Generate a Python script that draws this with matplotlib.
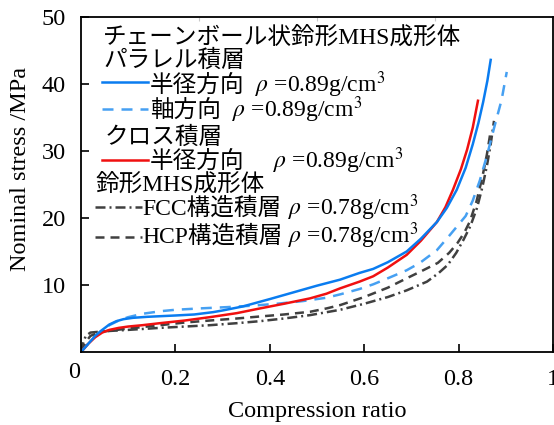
import matplotlib
matplotlib.use("Agg")
import matplotlib.pyplot as plt

plt.rcParams['font.family'] = ['Liberation Serif', 'Noto Sans CJK JP']
plt.rcParams['mathtext.fontset'] = 'stix'

# ---- data ----
par_rad_x = [0, 0.015, 0.03, 0.045, 0.06, 0.075, 0.09, 0.11, 0.14, 0.17, 0.2, 0.24, 0.28, 0.3, 0.343,
             0.4, 0.45, 0.5, 0.549, 0.59, 0.619, 0.65, 0.69, 0.72, 0.754, 0.775, 0.796, 0.815, 0.83,
             0.842, 0.852, 0.861, 0.868]
par_rad_y = [0, 1.2, 2.4, 3.3, 4.1, 4.6, 4.9, 5.1, 5.25, 5.35, 5.45, 5.6, 5.95, 6.2, 6.8,
             7.9, 8.9, 9.9, 10.8, 11.8, 12.4, 13.4, 15.0, 16.9, 19.4, 21.5, 24.2, 27.5, 31.0,
             34.2, 37.3, 40.5, 43.6]

par_ax_x = [0, 0.02, 0.04, 0.06, 0.08, 0.1, 0.13, 0.17, 0.2, 0.25, 0.31, 0.36, 0.415, 0.47, 0.52,
            0.549, 0.59, 0.619, 0.65, 0.69, 0.718, 0.754, 0.782, 0.815, 0.83, 0.845, 0.86, 0.875,
            0.891, 0.902]
par_ax_y = [0, 1.6, 3.0, 4.0, 4.7, 5.2, 5.7, 6.1, 6.3, 6.5, 6.7, 6.9, 7.2, 7.6, 8.1,
            8.6, 9.4, 10.1, 11.0, 12.2, 13.3, 15.2, 17.5, 20.3, 22.6, 25.6, 29.3, 33.4,
            37.6, 41.8]

cross_rad_x = [0, 0.015, 0.03, 0.045, 0.06, 0.08, 0.1, 0.13, 0.167, 0.22, 0.273, 0.33, 0.379, 0.43,
               0.485, 0.52, 0.549, 0.59, 0.619, 0.65, 0.69, 0.72, 0.754, 0.772, 0.788, 0.805, 0.818,
               0.83, 0.841]
cross_rad_y = [0, 1.2, 2.2, 2.9, 3.3, 3.6, 3.8, 4.0, 4.3, 4.7, 5.2, 5.8, 6.5, 7.2,
               8.0, 8.7, 9.5, 10.5, 11.3, 12.6, 14.5, 16.6, 19.4, 21.6, 24.2, 27.3, 30.2,
               33.5, 37.5]

fcc_x = [0, 0.004, 0.01, 0.02, 0.05, 0.1, 0.167, 0.22, 0.273, 0.33, 0.379, 0.43, 0.485, 0.549, 0.6,
         0.65, 0.69, 0.733, 0.758, 0.777, 0.795, 0.81, 0.825, 0.839, 0.85, 0.86, 0.868, 0.875]
fcc_y = [0, 1.2, 2.4, 2.9, 3.1, 3.3, 3.6, 3.8, 4.0, 4.3, 4.6, 5.0, 5.5, 6.3, 7.2,
         8.2, 9.2, 10.5, 11.8, 13.0, 14.8, 16.7, 18.8, 21.5, 24.5, 27.8, 31.0, 34.5]

hcp_x = [0, 0.01, 0.02, 0.04, 0.1, 0.167, 0.22, 0.273, 0.33, 0.379, 0.43, 0.485, 0.52, 0.549, 0.6,
         0.65, 0.69, 0.725, 0.756, 0.78, 0.797, 0.812, 0.824, 0.838, 0.85, 0.86, 0.868]
hcp_y = [0, 1.5, 2.4, 3.0, 3.5, 4.0, 4.4, 4.7, 5.0, 5.3, 5.6, 6.0, 6.5, 7.0, 8.2,
         9.6, 11.0, 12.2, 13.3, 14.8, 16.2, 17.8, 19.5, 22.5, 26.0, 29.5, 33.0]

x_ticks = [0.2, 0.4, 0.6, 0.8, 1.0]
x_ticklabels = ['0.2', '0.4', '0.6', '0.8', '1']
y_ticks = [10, 20, 30, 40, 50]
y_ticklabels = ['10', '20', '30', '40', '50']

C_BLUE = '#0a7cf0'
C_LBLUE = '#46a0f2'
C_RED = '#f01010'
C_DARK = '#404040'

W, H = 554, 425
fig = plt.figure(figsize=(W / 100, H / 100), dpi=100)
ax = fig.add_axes([81 / W, (H - 352) / H, 472 / W, 335 / H])

LW = 1.8
LS_LB = (0, (4.4, 3.2))
LS_HCP = (0, (3.6, 2.4))
LS_FCC = (0, (4.0, 1.6, 0.8, 1.6))
ax.plot(hcp_x, hcp_y, color=C_DARK, lw=LW, linestyle=LS_HCP)
ax.plot(fcc_x, fcc_y, color=C_DARK, lw=LW, linestyle=LS_FCC)
ax.plot(par_ax_x, par_ax_y, color=C_LBLUE, lw=LW, linestyle=LS_LB)
ax.plot(cross_rad_x, cross_rad_y, color=C_RED, lw=LW)
ax.plot(par_rad_x, par_rad_y, color=C_BLUE, lw=LW)

ax.set_xlim(0, 1)
ax.set_ylim(0, 50)
ax.set_xticks(x_ticks)
ax.set_xticklabels(x_ticklabels)
ax.set_yticks(y_ticks)
ax.set_yticklabels(y_ticklabels)
ax.tick_params(direction='in', length=6, width=1.2, labelsize=17.5, colors='black')
ax.tick_params(axis='y', pad=11)
ax.tick_params(axis='x', pad=12)
for s in ax.spines.values():
    s.set_linewidth(1.3)

sec = ax.secondary_xaxis('top')
sec.set_xticks([0.25, 0.5, 0.75])
sec.tick_params(direction='in', length=3, width=0.8, colors='#c8c8c8', labeltop=False)
sec.spines['top'].set_visible(False)

ax.set_xlabel('Compression ratio', fontsize=17.5)
ax.xaxis.set_label_coords((317 - 81) / 472, (352 - 411) / 335)
ax.xaxis.label.set_va('center')
ax.set_ylabel('Nominal stress /MPa', fontsize=17.5)
ax.yaxis.set_label_coords((20 - 81) / 472, (352 - 169) / 335)
ax.yaxis.label.set_va('center')

fig.text(74 / W, 1 - 372 / H, '0', fontsize=17.5, ha='center', va='center')

# ---- legend drawn in pixel positions ----
def fx(px):
    return px / W

def fy(py):
    return 1 - py / H

FS = 17

def txt(px, py, s, **kw):
    fig.text(fx(px), fy(py), s, fontsize=FS, ha='left', va='baseline', **kw)

def sample(x0, x1, py, color, ls):
    ax.plot([fx(x0), fx(x1)], [fy(py), fy(py)], transform=fig.transFigure,
            color=color, lw=LW, linestyle=ls, clip_on=False)

rho89 = r'$\rho$ =0.89g/cm$^3$'
rho78 = r'$\rho$ =0.78g/cm$^3$'

txt(103, 45, 'チェーンボール状鈴形MHS成形体')
txt(103, 67, 'パラレル積層')
sample(102, 148, 82, C_BLUE, '-')
txt(150, 92, '半径方向')
txt(255, 92, rho89)
sample(102, 148, 109, C_LBLUE, LS_LB)
txt(150, 117, '軸方向')
txt(232, 117, rho89)
txt(105, 144, 'クロス積層')
sample(102, 148, 160, C_RED, '-')
txt(150, 168, '半径方向')
txt(273, 168, rho89)
txt(95, 192, '鈴形MHS成形体')
sample(95, 142, 207, C_DARK, LS_FCC)
txt(142, 215, 'FCC構造積層')
txt(288, 215, rho78)
sample(95, 142, 237, C_DARK, LS_HCP)
txt(142, 243, 'HCP構造積層')
txt(288, 243, rho78)

fig.savefig('out.png', dpi=100)
